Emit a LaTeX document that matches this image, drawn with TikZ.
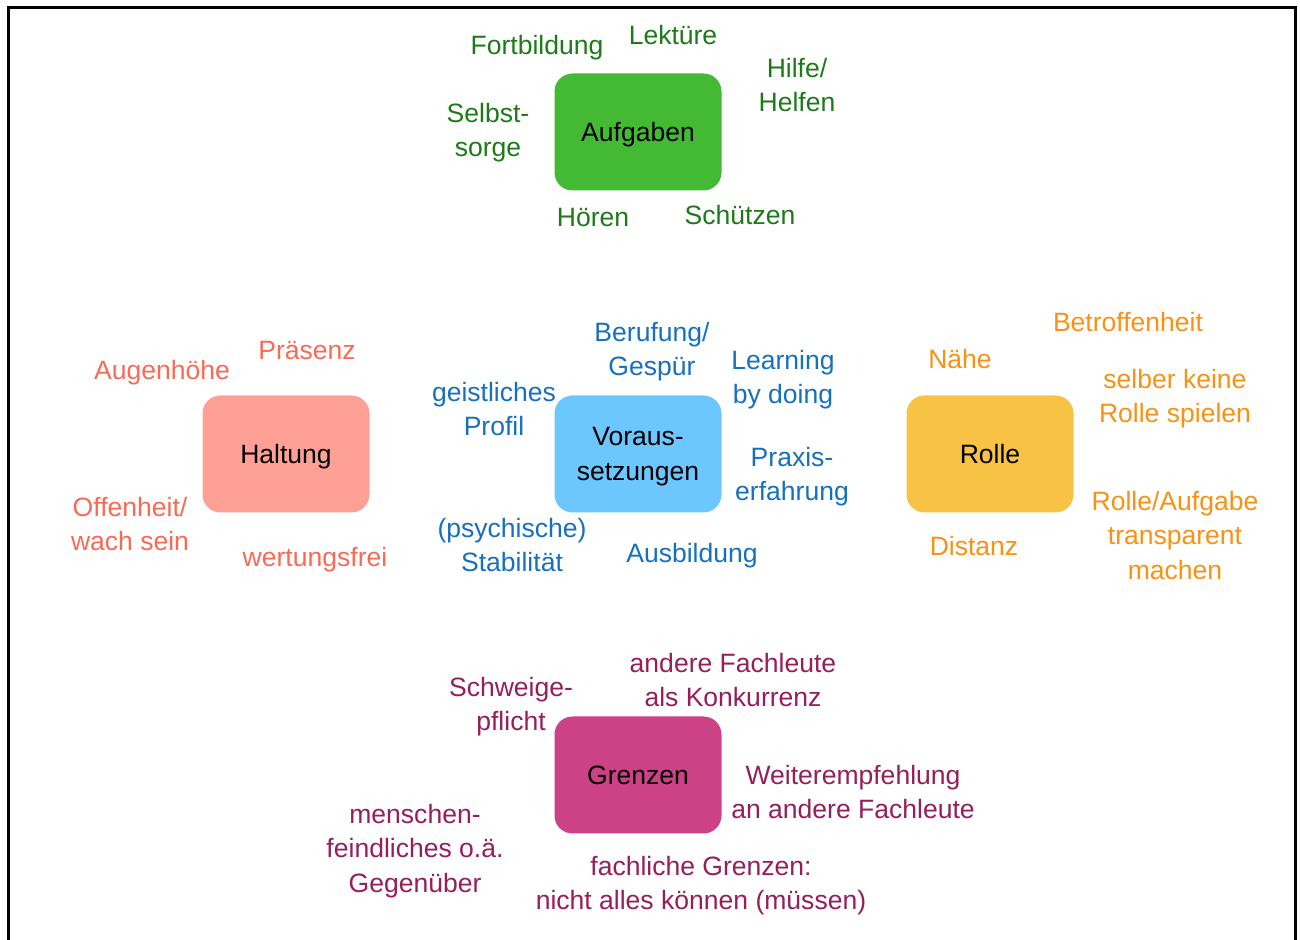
\documentclass[tikz,border=0pt]{standalone}
\usepackage{fontspec}
\setmainfont{Liberation Sans}
\usetikzlibrary{positioning}
\definecolor{MapGreen}{RGB}{68,186,52}
\definecolor{MapGreenText}{RGB}{30,122,24}
\definecolor{MapBlue}{RGB}{108,198,255}
\definecolor{MapBlueText}{RGB}{22,112,190}
\definecolor{MapSalmon}{RGB}{255,160,150}
\definecolor{MapSalmonText}{RGB}{249,106,85}
\definecolor{MapYellow}{RGB}{248,195,68}
\definecolor{MapOrangeText}{RGB}{249,145,20}
\definecolor{MapMagenta}{RGB}{205,65,135}
\definecolor{MapMagentaText}{RGB}{150,30,90}
\tikzset{
  map/box/.style={
    draw=none,
    rounded corners=0.36cm,
    align=center,
    text=black,
    minimum width=3.34cm,
    minimum height=2.34cm,
    inner sep=0pt,
    text depth=0pt,
    font=\fontsize{15.1}{19.6}\selectfont
  },
  map/label/.style={
    align=center,
    inner sep=0pt,
    text depth=0pt,
    font=\fontsize{15.1}{19.6}\selectfont
  },
  map/green/.style={map/label, text=MapGreenText},
  map/blue/.style={map/label, text=MapBlueText},
  map/salmon/.style={map/label, text=MapSalmonText},
  map/orange/.style={map/label, text=MapOrangeText},
  map/magenta/.style={map/label, text=MapMagentaText},
  map/frame/.style={draw=black, line width=0.06cm}
}

\begin{document}
\begin{tikzpicture}[x=1cm,y=1cm]
  \useasboundingbox (0,0) rectangle (26,18.8);
  \coordinate (fbl) at (0.16,0);
  \coordinate (ftl) at (0.16,18.64);
  \coordinate (ftr) at (25.90,18.64);
  \coordinate (fbr) at (25.90,0);
  \draw[map/frame] (fbl) -- (ftl) -- (ftr) -- (fbr);

  % Aufgaben
  \node[map/box,fill=MapGreen] (aufg) at (12.76,16.16) {Aufgaben};
  \node[map/green] (fortb) at (10.74,17.90) {Fortbildung};
  \node[map/green] (lekt) at (13.46,18.10) {Lektüre};
  \node[map/green] (hilfe) at (15.94,17.10) {Hilfe/\\Helfen};
  \node[map/green] (selbst) at (9.76,16.20) {Selbst-\\sorge};
  \node[map/green] (hoeren) at (11.86,14.46) {Hören};
  \node[map/green] (schuetz) at (14.80,14.50) {Schützen};

  % Haltung
  \node[map/box,fill=MapSalmon] (halt) at (5.72,9.72) {Haltung};
  \node[map/salmon] (praes) at (6.14,11.80) {Präsenz};
  \node[map/salmon] (augen) at (3.24,11.40) {Augenhöhe};
  \node[map/salmon] (offen) at (2.60,8.32) {Offenheit/\\wach sein};
  \node[map/salmon] (wert) at (6.30,7.66) {wertungsfrei};

  % Voraussetzungen
  \node[map/box,fill=MapBlue] (vor) at (12.76,9.72) {Voraus-\\setzungen};
  \node[map/blue] (beruf) at (13.04,11.82) {Berufung/\\Gespür};
  \node[map/blue] (learn) at (15.66,11.26) {Learning\\by doing};
  \node[map/blue] (geist) at (9.88,10.62) {geistliches\\Profil};
  \node[map/blue] (praxis) at (15.84,9.32) {Praxis-\\erfahrung};
  \node[map/blue] (psych) at (10.24,7.90) {(psychische)\\Stabilität};
  \node[map/blue] (ausb) at (13.84,7.74) {Ausbildung};

  % Rolle
  \node[map/box,fill=MapYellow] (rolle) at (19.80,9.72) {Rolle};
  \node[map/orange] (betr) at (22.56,12.36) {Betroffenheit};
  \node[map/orange] (naehe) at (19.20,11.62) {Nähe};
  \node[map/orange] (keine) at (23.50,10.88) {selber keine\\Rolle spielen};
  \node[map/orange] (transp) at (23.50,8.10) {Rolle/Aufgabe\\transparent\\machen};
  \node[map/orange] (dist) at (19.48,7.88) {Distanz};

  % Grenzen
  \node[map/box,fill=MapMagenta] (grenz) at (12.76,3.30) {Grenzen};
  \node[map/magenta] (schweig) at (10.22,4.72) {Schweige-\\pflicht};
  \node[map/magenta] (konk) at (14.66,5.20) {andere Fachleute\\als Konkurrenz};
  \node[map/magenta] (weiter) at (17.06,2.96) {Weiterempfehlung\\an andere Fachleute};
  \node[map/magenta] (feind) at (8.30,1.84) {menschen-\\feindliches o.ä.\\Gegenüber};
  \node[map/magenta] (fach) at (14.02,1.14) {fachliche Grenzen:\\nicht alles können (müssen)};
\end{tikzpicture}
\end{document}
